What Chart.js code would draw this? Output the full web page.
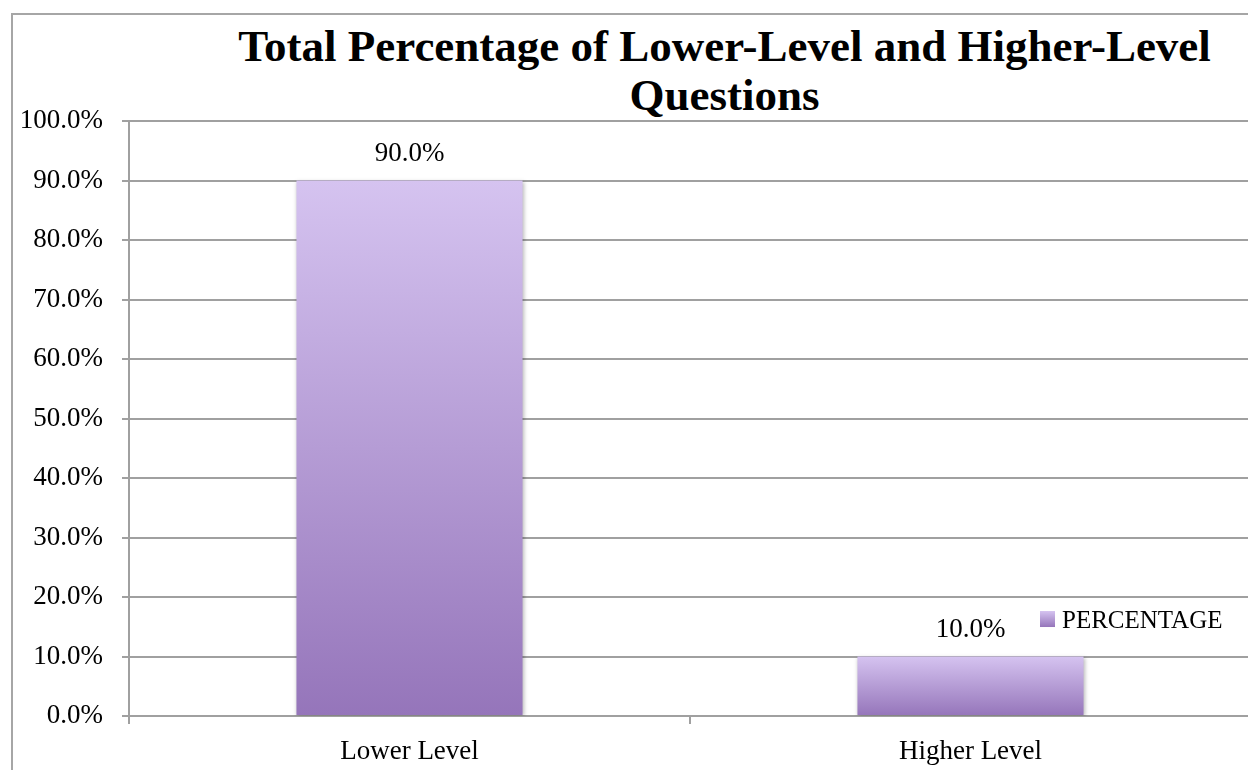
<!DOCTYPE html>
<html>
<head>
<meta charset="utf-8">
<script src="https://cdn.jsdelivr.net/npm/chart.js@4/dist/chart.umd.min.js"></script>
<style>
  body { margin: 0; overflow: hidden; background: #fff; width: 1248px; height: 770px; position: relative; }
  .frame { position: absolute; left: 11px; top: 13px; width: 1446px; height: 800px; border: 2px solid #a6a6a6; box-sizing: border-box; }
  .title { position: absolute; left: 0; top: 22px; width: 1449px; text-align: center;
    font-family: 'Liberation Serif', serif; font-weight: bold; font-size: 45px; line-height: 49px; color: #000; }
  .wrap { position: absolute; left: 0; top: 0; width: 1300px; height: 770px; }
</style>
</head>
<body>
<div class="frame"></div>
<div class="title">Total Percentage of Lower-Level and Higher-Level<br>Questions</div>
<div class="wrap"><canvas id="chart"></canvas></div>
<script>
const categories = ['Lower Level', 'Higher Level'];
const percentages = [90.0, 10.0];
const seriesName = 'PERCENTAGE';

const yMin = 0;
const yMax = 100;
const yStep = 10;

const serif = "'Liberation Serif', serif";
const gridGray = '#a0a0a0';

function barGradient(ctx, top, bottom) {
  const g = ctx.createLinearGradient(0, top, 0, bottom);
  g.addColorStop(0, '#d5c3f0');
  g.addColorStop(1, '#9575ba');
  return g;
}

// soft shadow under the bars
const barShadow = {
  id: 'barShadow',
  beforeDatasetsDraw(chart) {
    const c = chart.ctx;
    c.save();
    c.shadowColor = 'rgba(0,0,0,0.28)';
    c.shadowBlur = 4;
    c.shadowOffsetX = 1;
    c.shadowOffsetY = 1;
  },
  afterDatasetsDraw(chart) {
    chart.ctx.restore();
  }
};

// value labels above each bar
const valueLabels = {
  id: 'valueLabels',
  afterDatasetsDraw(chart) {
    const c = chart.ctx;
    const meta = chart.getDatasetMeta(0);
    c.save();
    c.font = '27px ' + serif;
    c.fillStyle = '#000';
    c.textAlign = 'center';
    c.textBaseline = 'middle';
    meta.data.forEach(function (bar, i) {
      const v = chart.data.datasets[0].data[i];
      c.fillText(v.toFixed(1) + '%', bar.x, bar.y - 27);
    });
    c.restore();
  }
};

// legend drawn inside the plot, lower right
const innerLegend = {
  id: 'innerLegend',
  afterDraw(chart) {
    const c = chart.ctx;
    const area = chart.chartArea;
    const x = area.right - 211;
    const y = chart.scales.y.getPixelForValue(16.3);
    c.save();
    c.fillStyle = barGradient(c, y - 8, y + 8);
    c.fillRect(x, y - 8, 15, 16);
    c.font = '25px ' + serif;
    c.fillStyle = '#000';
    c.textAlign = 'left';
    c.textBaseline = 'middle';
    c.fillText(chart.data.datasets[0].label, x + 22, y + 2);
    c.restore();
  }
};

new Chart(document.getElementById('chart'), {
  type: 'bar',
  data: {
    labels: categories,
    datasets: [{
      label: seriesName,
      data: percentages,
      backgroundColor: function (ctx) {
        const chart = ctx.chart;
        if (!chart.chartArea || ctx.raw === undefined) return '#b49ad6';
        const y = chart.scales.y;
        return barGradient(chart.ctx, y.getPixelForValue(ctx.raw), y.getPixelForValue(0));
      },
      borderWidth: 0,
      categoryPercentage: 1,
      barPercentage: 0.403
    }]
  },
  options: {
    responsive: true,
    maintainAspectRatio: false,
    animation: false,
    layout: { padding: { top: 121, right: 49, left: 0, bottom: 0 } },
    plugins: {
      legend: { display: false },
      title: { display: false },
      tooltip: { enabled: false }
    },
    scales: {
      x: {
        grid: { display: true, drawOnChartArea: false, color: gridGray, lineWidth: 2, tickLength: 8, offset: true },
        border: { color: gridGray, width: 2 },
        ticks: { color: '#000', font: { family: serif, size: 27 }, padding: 12 },
        afterFit: function (scale) { scale.height = 54; }
      },
      y: {
        min: yMin,
        max: yMax,
        grid: { color: gridGray, lineWidth: 2, tickLength: 7 },
        border: { color: gridGray, width: 2 },
        ticks: {
          stepSize: yStep,
          color: '#000',
          font: { family: serif, size: 27 },
          padding: 19,
          callback: function (v) { return v.toFixed(1) + '%'; }
        },
        afterFit: function (scale) { scale.width = 129; }
      }
    }
  },
  plugins: [barShadow, valueLabels, innerLegend]
});
</script>
</body>
</html>
